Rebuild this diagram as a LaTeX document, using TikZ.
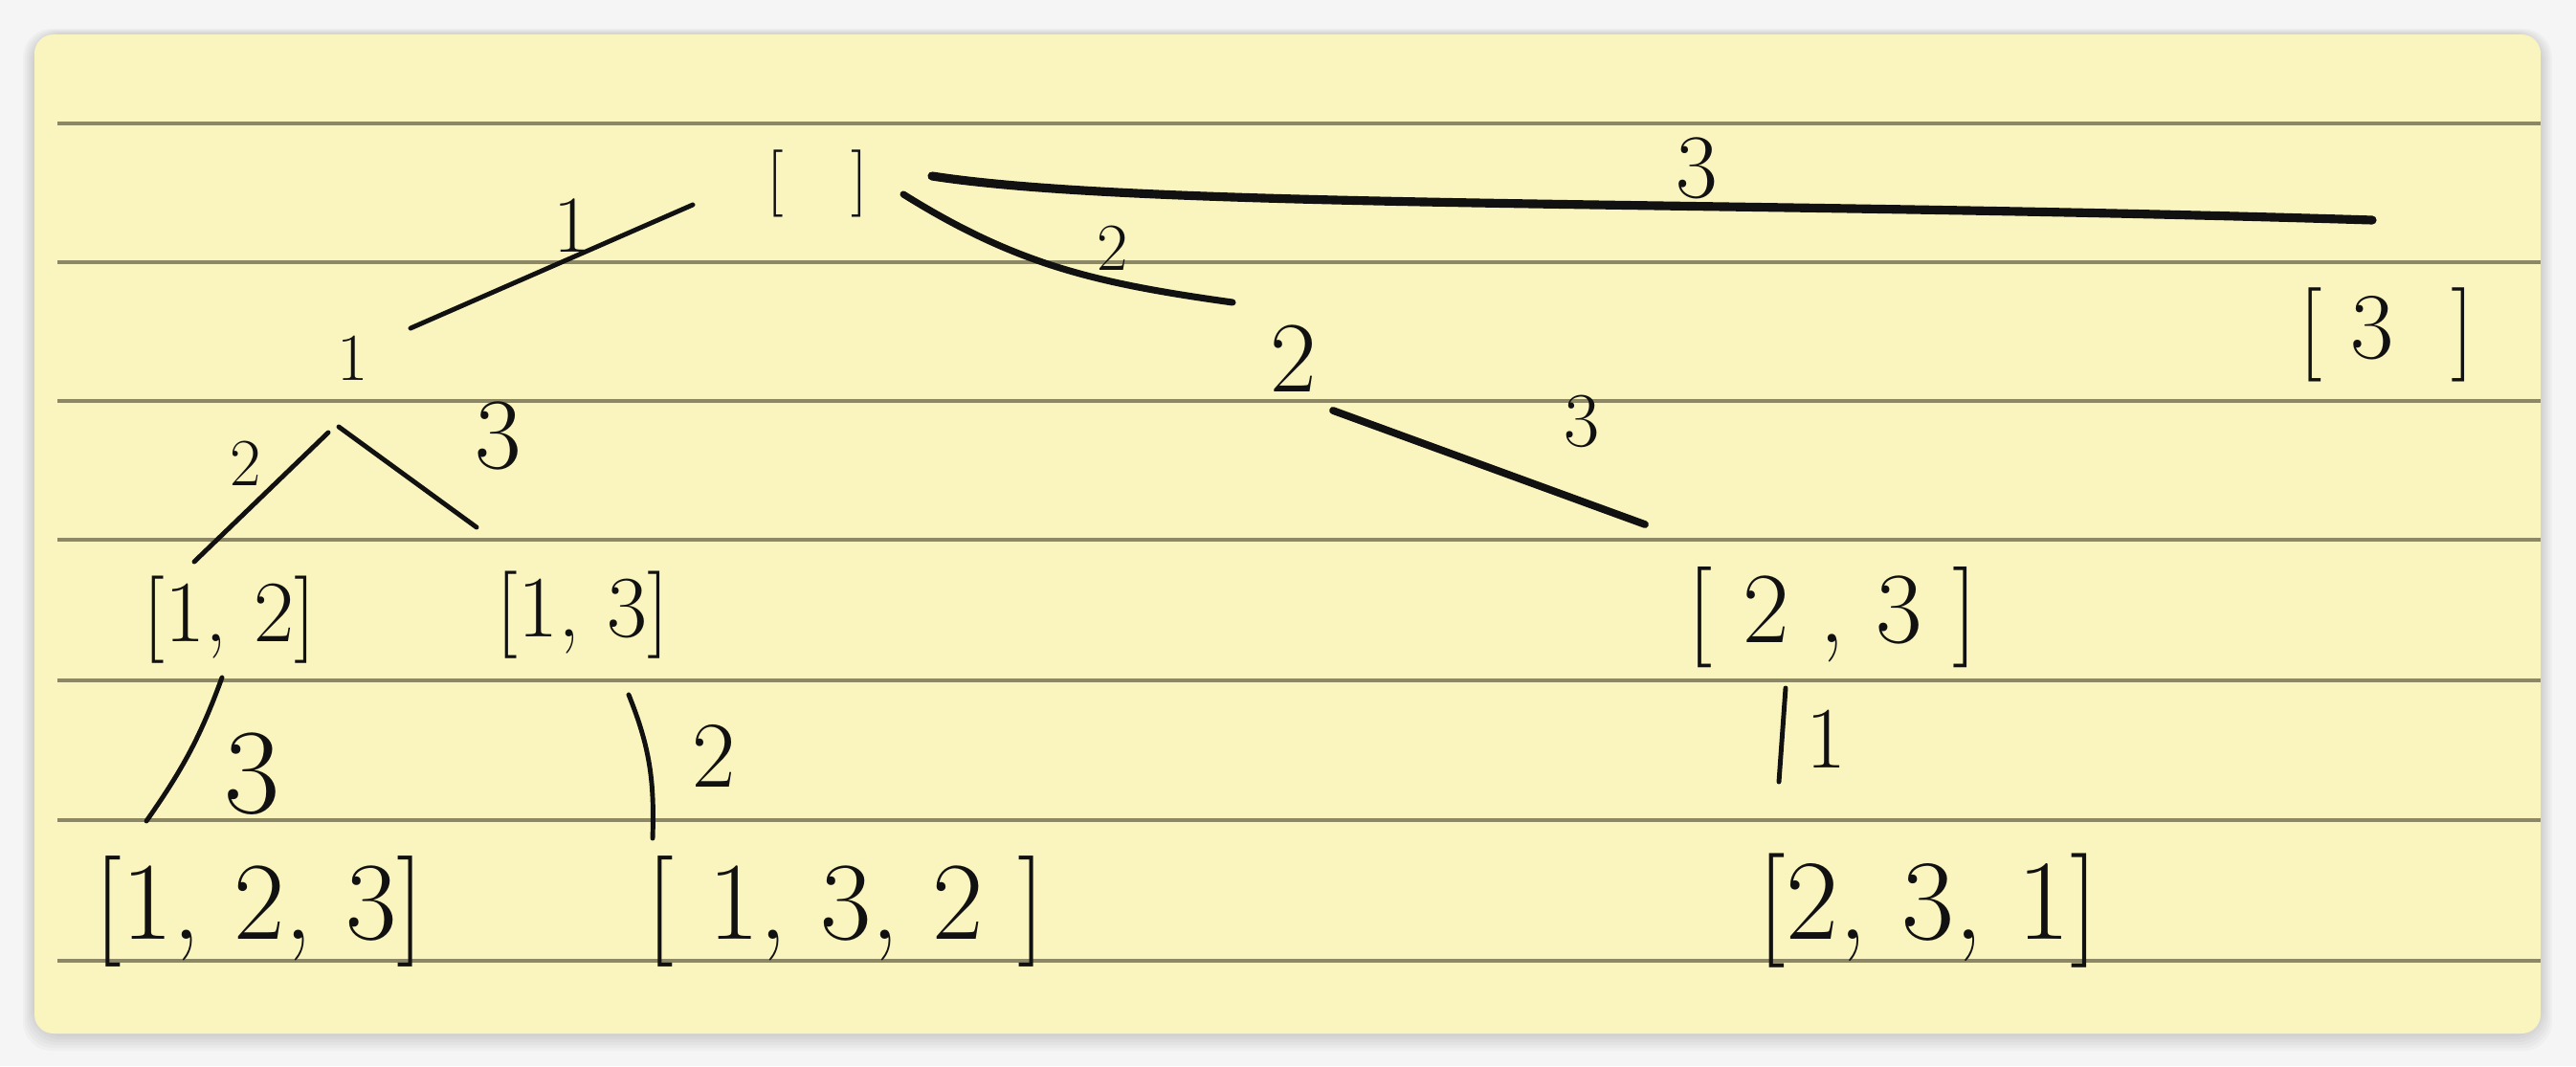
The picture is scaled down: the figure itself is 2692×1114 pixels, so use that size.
\documentclass[tikz,border=0pt]{standalone}
\usepackage{tikz}
\usetikzlibrary{calc}

\definecolor{paper}{HTML}{FAF5BF}
\definecolor{rule}{HTML}{8C8866}
\definecolor{ink}{HTML}{111111}
\newcommand\handsize[1]{\fontsize{#1}{#1}\selectfont}

\begin{document}
\begin{tikzpicture}[x=0.01cm,y=0.01cm,
	state node/.style={inner sep=0pt,text=ink},
	edge label/.style={inner sep=0pt,text=ink},
	tree edge/.style={draw=ink,line width=1.4pt,line cap=round},
	heavy edge/.style={tree edge,line width=2.6pt}
]

	\useasboundingbox (0,0) rectangle (2692,1114);
	\fill[white!96!black] (0,0) rectangle (2692,1114);
	\foreach \g in {1,...,6} {
		\fill[black,opacity=0.025,rounded corners=0.3cm] (36-2*\g,34-3*\g) rectangle (2655+2*\g,1078+\g);
	}
	\fill[paper,rounded corners=0.2cm] (36,34) rectangle (2655,1078);
	\foreach \y in {985,840,695,550,403,257,110}
		\draw[rule,line width=0.9pt] (60,\y) -- (2655,\y);

	% states
	\node[state node,font=\handsize{20}] (root) at (854,922) {[\quad]};
	\node[state node,font=\handsize{20}] (n1) at (369,740) {1};
	\node[state node,font=\handsize{30}] (n2) at (1352,739) {2};
	\node[state node,font=\handsize{28}] (n3) at (2494,764) {[\ 3\ \ ]};
	\node[state node,font=\handsize{26}] (n12) at (240,466) {[1,\ 2]};
	\node[state node,font=\handsize{26}] (n13) at (609,471) {[1,\ 3]};
	\node[state node,font=\handsize{30}] (n23) at (1915,469) {[\ 2\ ,\ 3\ ]};
	\node[state node,font=\handsize{33}] (n123) at (271,162) {[1, 2, 3]};
	\node[state node,font=\handsize{33}] (n132) at (884,162) {[\ 1, 3, 2\ ]};
	\node[state node,font=\handsize{34}] (n231) at (2015,162) {[2, 3, 1]};

	% choices
	\draw[tree edge] ($(root)+(-130,-22)$) -- ($(n1)+(60,31)$);
	\draw[tree edge,line width=2pt] ($(root)+(90,-11)$) to[out=-32,in=172] ($(n2)+(-64,59)$);
	\draw[heavy edge] ($(root)+(120,8)$) .. controls +(226,-35) and +(-679,21) .. ($(n3)+(-15,120)$);
	\draw[tree edge] ($(n1)+(-26,-78)$) -- ($(n12)+(-37,61)$);
	\draw[tree edge] ($(n1)+(-15,-72)$) -- ($(n13)+(-111,92)$);
	\draw[tree edge] ($(n12)+(-8,-60)$) to[out=-110,in=55] ($(n123)+(-118,94)$);
	\draw[tree edge] ($(n13)+(48,-83)$) to[out=-68,in=88] ($(n132)+(-202,76)$);
	\draw[tree edge,line width=2.2pt] ($(n2)+(41,-54)$) -- ($(n23)+(-196,97)$);
	\draw[tree edge] ($(n23)+(-49,-74)$) -- ($(n231)+(-156,135)$);

	\node[edge label,font=\handsize{24}] (w1) at (598,878) {1};
	\node[edge label,font=\handsize{20}] (w2) at (1163,855) {2};
	\node[edge label,font=\handsize{27}] (w3) at (1773,938) {3};
	\node[edge label,font=\handsize{20}] (w12) at (257,630) {2};
	\node[edge label,font=\handsize{30}] (w13) at (521,659) {3};
	\node[edge label,font=\handsize{36}] (w123) at (264,305) {3};
	\node[edge label,font=\handsize{28}] (w132) at (746,324) {2};
	\node[edge label,font=\handsize{23}] (w23) at (1653,674) {3};
	\node[edge label,font=\handsize{26}] (w231) at (1908,342) {1};
\end{tikzpicture}
\end{document}
